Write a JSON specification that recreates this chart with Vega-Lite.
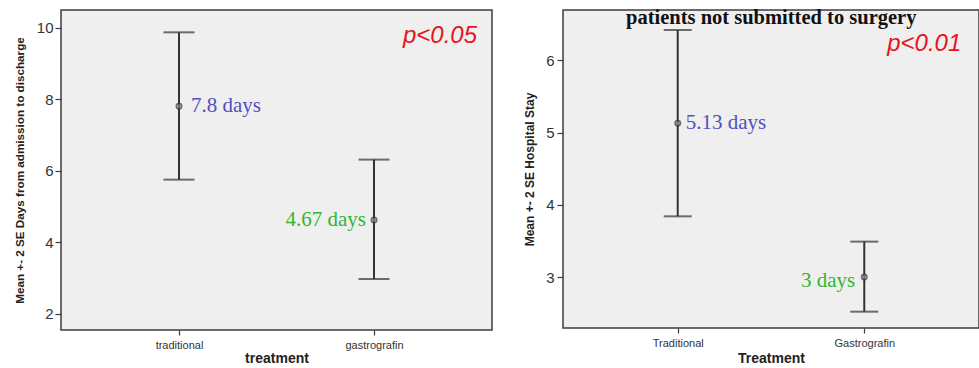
{
  "$schema": "https://vega.github.io/schema/vega-lite/v6.json",
  "padding": {"left": 13, "top": 7, "right": 0, "bottom": 0},
  "background": "white",
  "bounds": "flush",
  "spacing": 71,
  "config": {
    "view": {"fill": "#efefef", "stroke": "#3c3c3c", "strokeWidth": 1.5},
    "axis": {"grid": false, "domain": false, "tickColor": "#3c3c3c", "tickWidth": 1.2, "labelColor": "#333333", "titleColor": "#222222", "labelFont": "Liberation Sans", "titleFont": "Liberation Sans"}
  },
  "datasets": {
    "admission": [
      {"treatment": "traditional", "mean": 7.8, "lo": 5.75, "hi": 9.87, "label": "7.8 days"},
      {"treatment": "gastrografin", "mean": 4.62, "lo": 2.97, "hi": 6.31, "label": "4.67 days"}
    ],
    "stay": [
      {"treatment": "Traditional", "mean": 5.13, "lo": 3.84, "hi": 6.42, "label": "5.13 days"},
      {"treatment": "Gastrografin", "mean": 3.0, "lo": 2.52, "hi": 3.49, "label": "3 days"}
    ],
    "note": [{"note": "annotation"}]
  },
  "hconcat": [
    {
      "width": 431,
      "height": 320,
      "data": {"name": "admission"},
      "encoding": {
        "x": {"field": "treatment", "type": "nominal", "sort": ["traditional", "gastrografin"],
          "scale": {"type": "point", "padding": 0.605},
          "axis": {"title": "treatment", "labelAngle": 0, "labelFontSize": 11, "tickSize": 5, "labelPadding": 4, "titleFontSize": 14, "titleFontWeight": "bold", "titlePadding": 1}}
      },
      "layer": [
        {
          "mark": {"type": "rule", "strokeWidth": 2, "color": "#333333"},
          "encoding": {
            "y": {"field": "lo", "type": "quantitative",
              "scale": {"domain": [1.544, 10.495], "nice": false, "zero": false},
              "axis": {"title": "Mean +- 2 SE Days from admission to discharge", "values": [2, 4, 6, 8, 10], "format": "d", "labelFontSize": 15, "tickSize": 6, "labelPadding": 2, "titleFontSize": 11.7, "titleFontWeight": "bold", "titlePadding": 11}},
            "y2": {"field": "hi"}
          }
        },
        {"mark": {"type": "tick", "thickness": 2, "size": 31, "color": "#333333"}, "encoding": {"y": {"field": "lo", "type": "quantitative"}}},
        {"mark": {"type": "tick", "thickness": 2, "size": 31, "color": "#333333"}, "encoding": {"y": {"field": "hi", "type": "quantitative"}}},
        {"mark": {"type": "point", "filled": true, "size": 30, "color": "#8a8a8a", "stroke": "#333333", "strokeWidth": 1.5}, "encoding": {"y": {"field": "mean", "type": "quantitative"}}},
        {
          "transform": [{"filter": "datum.treatment == 'traditional'"}],
          "mark": {"type": "text", "align": "left", "baseline": "middle", "dx": 12, "font": "Liberation Serif", "fontSize": 21, "color": "#4f4fc0"},
          "encoding": {"y": {"field": "mean", "type": "quantitative"}, "text": {"field": "label"}}
        },
        {
          "transform": [{"filter": "datum.treatment == 'gastrografin'"}],
          "mark": {"type": "text", "align": "right", "baseline": "middle", "dx": -8, "font": "Liberation Serif", "fontSize": 21, "color": "#33b533"},
          "encoding": {"y": {"field": "mean", "type": "quantitative"}, "text": {"field": "label"}}
        },
        {
          "data": {"name": "note"},
          "mark": {"type": "text", "text": "p<0.05", "align": "center", "baseline": "middle", "dx": 66, "font": "Liberation Sans", "fontStyle": "italic", "fontSize": 24, "color": "#e8141c"},
          "encoding": {"x": {"datum": "gastrografin"}, "y": {"datum": 9.77}}
        }
      ]
    },
    {
      "width": 416,
      "height": 318,
      "data": {"name": "stay"},
      "encoding": {
        "x": {"field": "treatment", "type": "nominal", "sort": ["Traditional", "Gastrografin"],
          "scale": {"type": "point", "padding": 0.615},
          "axis": {"title": "Treatment", "labelAngle": 0, "labelFontSize": 11, "tickSize": 5, "labelPadding": 4, "titleFontSize": 14, "titleFontWeight": "bold", "titlePadding": 3}}
      },
      "layer": [
        {
          "mark": {"type": "rule", "strokeWidth": 2, "color": "#333333"},
          "encoding": {
            "y": {"field": "lo", "type": "quantitative",
              "scale": {"domain": [2.294, 6.697], "nice": false, "zero": false},
              "axis": {"title": "Mean +- 2 SE Hospital Stay", "values": [3, 4, 5, 6], "format": "d", "labelFontSize": 15, "tickSize": 6, "labelPadding": 3, "titleFontSize": 12, "titleFontWeight": "bold", "titlePadding": 9}},
            "y2": {"field": "hi"}
          }
        },
        {"mark": {"type": "tick", "thickness": 2, "size": 28, "color": "#333333"}, "encoding": {"y": {"field": "lo", "type": "quantitative"}}},
        {"mark": {"type": "tick", "thickness": 2, "size": 28, "color": "#333333"}, "encoding": {"y": {"field": "hi", "type": "quantitative"}}},
        {"mark": {"type": "point", "filled": true, "size": 30, "color": "#8a8a8a", "stroke": "#333333", "strokeWidth": 1.5}, "encoding": {"y": {"field": "mean", "type": "quantitative"}}},
        {
          "transform": [{"filter": "datum.treatment == 'Traditional'"}],
          "mark": {"type": "text", "align": "left", "baseline": "middle", "dx": 8, "font": "Liberation Serif", "fontSize": 21, "color": "#4f4fc0"},
          "encoding": {"y": {"field": "mean", "type": "quantitative"}, "text": {"field": "label"}}
        },
        {
          "transform": [{"filter": "datum.treatment == 'Gastrografin'"}],
          "mark": {"type": "text", "align": "right", "baseline": "middle", "dx": -9, "dy": 4, "font": "Liberation Serif", "fontSize": 21, "color": "#33b533"},
          "encoding": {"y": {"field": "mean", "type": "quantitative"}, "text": {"field": "label"}}
        },
        {
          "data": {"name": "note"},
          "mark": {"type": "text", "text": "p<0.01", "align": "center", "baseline": "middle", "dx": 60, "font": "Liberation Sans", "fontStyle": "italic", "fontSize": 24, "color": "#e8141c"},
          "encoding": {"x": {"datum": "Gastrografin"}, "y": {"datum": 6.23}}
        },
        {
          "data": {"name": "note"},
          "mark": {"type": "text", "text": "patients not submitted to surgery", "align": "center", "baseline": "middle", "dx": 93.5, "font": "Liberation Serif", "fontWeight": "bold", "fontSize": 20.5, "color": "#111111"},
          "encoding": {"x": {"datum": "Traditional"}, "y": {"datum": 6.586}}
        }
      ]
    }
  ]
}
